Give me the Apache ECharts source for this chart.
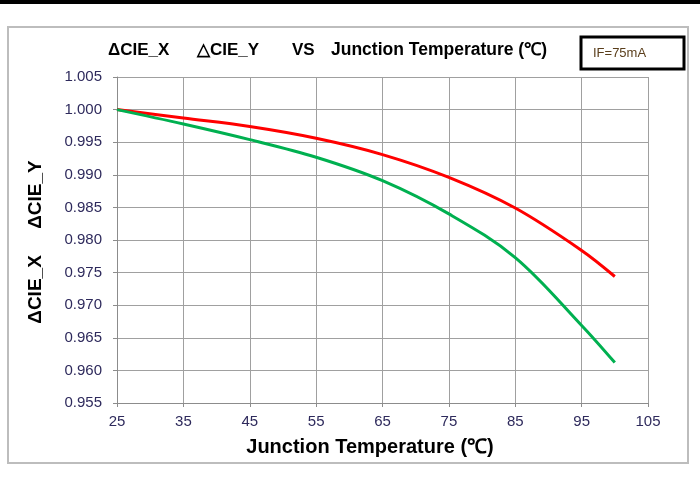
<!DOCTYPE html>
<html>
<head>
<meta charset="utf-8">
<script src="https://cdn.jsdelivr.net/npm/echarts@6/dist/echarts.min.js"></script>
<style>html,body{margin:0;padding:0;background:#fff;}#c{width:700px;height:481px;}</style>
</head>
<body>
<div id="c"></div>
<script>
const temps = [25, 35, 45, 55, 65, 75, 85, 95, 100];
const cieX = [1.0000, 0.9987, 0.9974, 0.9956, 0.9931, 0.9896, 0.9849, 0.9784, 0.9744];
const cieY = [1.0000, 0.9978, 0.9954, 0.9927, 0.9891, 0.9840, 0.9773, 0.9669, 0.9612];
const xTicks = [25, 35, 45, 55, 65, 75, 85, 95, 105];
const yTicks = [0.955, 0.960, 0.965, 0.970, 0.975, 0.980, 0.985, 0.990, 0.995, 1.000, 1.005];

const chart = echarts.init(document.getElementById('c'), null, {renderer: 'canvas'});
const font = '"Liberation Sans", Arial, sans-serif';
const titleStyle = (t) => ({text: t, fontFamily: font, fontSize: 17, fontWeight: 'bold', fill: '#000',
  textVerticalAlign: 'middle'});
chart.setOption({
  animation: false,
  backgroundColor: '#fff',
  graphic: [
    {type: 'rect', shape: {x: 0, y: 0, width: 700, height: 4}, style: {fill: '#000'}},
    {type: 'rect', shape: {x: 8, y: 27, width: 680, height: 436}, style: {fill: 'none', stroke: '#bdbdbd', lineWidth: 2}},
    {type: 'text', x: 108, y: 50, style: titleStyle('ΔCIE_X')},
    {type: 'text', x: 197, y: 50, style: titleStyle('△CIE_Y')},
    {type: 'text', x: 292, y: 50, style: titleStyle('VS')},
    {type: 'text', x: 331, y: 50, style: Object.assign(titleStyle('Junction Temperature (℃)'), {fontSize: 17.5})},
    {type: 'rect', shape: {x: 581, y: 37, width: 103, height: 32}, style: {fill: '#fff', stroke: '#000', lineWidth: 3}},
    {type: 'text', x: 593, y: 53, style: {text: 'IF=75mA', fontFamily: font, fontSize: 13, fill: '#5a3e1b', textVerticalAlign: 'middle'}},
    {type: 'text', x: 370, y: 447, style: {text: 'Junction Temperature (℃)', fontFamily: font, fontSize: 20,
      fontWeight: 'bold', fill: '#000', textAlign: 'center', textVerticalAlign: 'middle'}},
    {type: 'text', x: 36, y: 242, rotation: Math.PI / 2, style: {text: 'ΔCIE_X     ΔCIE_Y', fontFamily: font,
      fontSize: 19, fontWeight: 'bold', fill: '#000', textAlign: 'center', textVerticalAlign: 'middle'}}
  ],
  grid: {left: 117, right: 52, top: 77, bottom: 78},
  xAxis: {
    type: 'value', min: xTicks[0], max: xTicks[xTicks.length - 1], interval: 10,
    axisLine: {lineStyle: {color: '#8c8c8c', width: 1}},
    axisTick: {show: true, length: 4, lineStyle: {color: '#8c8c8c'}},
    axisLabel: {fontFamily: font, fontSize: 15, color: '#2e2a5c', margin: 11},
    splitLine: {show: true, lineStyle: {color: '#a0a0a0', width: 1}}
  },
  yAxis: {
    type: 'value', min: yTicks[0], max: yTicks[yTicks.length - 1], interval: 0.005,
    axisLine: {show: true, lineStyle: {color: '#8c8c8c', width: 1}},
    axisTick: {show: true, length: 4, lineStyle: {color: '#8c8c8c'}},
    axisLabel: {fontFamily: font, fontSize: 15, color: '#2e2a5c', margin: 15,
      formatter: v => v.toFixed(3)},
    splitLine: {show: true, lineStyle: {color: '#a0a0a0', width: 1}}
  },
  series: [
    {type: 'line', name: 'ΔCIE_X', data: temps.map((t, i) => [t, cieX[i]]), smooth: 0.35,
      symbol: 'none', lineStyle: {color: '#ff0000', width: 3}},
    {type: 'line', name: 'ΔCIE_Y', data: temps.map((t, i) => [t, cieY[i]]), smooth: 0.35,
      symbol: 'none', lineStyle: {color: '#00b050', width: 3}}
  ]
});
</script>
</body>
</html>
